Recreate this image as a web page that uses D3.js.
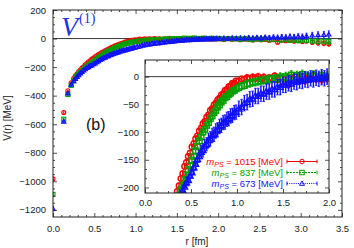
<!DOCTYPE html>
<html><head><meta charset="utf-8">
<script src="https://cdn.jsdelivr.net/npm/d3@7"></script>
<style>
body{margin:0;background:#fff}
svg{display:block}
text{font-family:"Liberation Sans",Arial,Helvetica,sans-serif}
</style>
</head><body>
<svg id="c" width="354" height="248"></svg>
<script>
// ---- data ----
const R = [0.00,0.13,0.18,0.22,0.25,0.27,0.29,0.31,0.33,0.35,0.37,0.39,0.41,0.43,0.45,0.47,0.49,0.51,0.53,0.55,0.57,0.59,0.61,0.63,0.65,0.67,0.69,0.71,0.73,0.75,0.77,0.79,0.81,0.83,0.85,0.87,0.89,0.91,0.93,0.95,0.97,0.99,1.02,1.05,1.08,1.11,1.14,1.17,1.20,1.23,1.26,1.29,1.32,1.35,1.38,1.41,1.44,1.47,1.50,1.53,1.56,1.59,1.62,1.65,1.68,1.71,1.74,1.77,1.80,1.83,1.86,1.89,1.92,1.95,1.98,2.02,2.07,2.12,2.17,2.22,2.27,2.32,2.37,2.42,2.47,2.52,2.57,2.62,2.67,2.72,2.77,2.82,2.87,2.92,2.97,3.02,3.07,3.14,3.21,3.28,3.34];
const vRed = [-983,-518,-366,-310,-281,-262,-249,-233,-221,-207,-197,-184,-175,-162,-155,-144,-138,-127,-121,-112,-107,-98,-93,-85,-81,-73,-69,-61,-58,-51,-48,-42,-39,-33,-31,-25,-23,-18,-17,-12,-12,-8,-8,-4,-5,-2,-4,-1,-3,0,-4,-1,-6,-2,-3,1,-5,-2,-9,-4,-14,-3,-6,0,-4,-1,-7,-2,-3,2,-4,-1,-5,0,-3,-2,-6,-1,-5,-3,-8,-4,-7,-10,-5,-9,-6,-12,-8,-26,-11,-15,-9,-18,-13,-21,-17,-26,-30,-33,-36];
const vGreen = [-1092,-565,-392,-328,-297,-278,-263,-248,-237,-225,-215,-204,-196,-186,-178,-168,-161,-151,-144,-134,-126,-116,-109,-100,-95,-88,-83,-76,-71,-65,-61,-55,-51,-46,-43,-38,-36,-32,-30,-26,-25,-22,-20,-17,-16,-13,-12,-10,-10,-8,-8,-6,-7,-4,-5,-3,-4,-1,-3,0,-2,3,-1,2,-2,4,0,1,-2,3,0,-1,2,-2,1,-1,-4,0,-3,-1,-6,-2,-4,-8,-3,-6,-2,-9,-5,-7,-11,-6,-13,-9,-15,-10,-12,-17,-20,-18,-21];
const vBlue = [-1192,-581,-383,-322,-298,-283,-268,-256,-243,-233,-222,-214,-205,-199,-191,-187,-179,-173,-164,-158,-149,-144,-136,-133,-125,-122,-115,-112,-106,-104,-98,-96,-90,-88,-83,-82,-77,-76,-71,-70,-65,-64,-58,-55,-48,-46,-41,-40,-35,-35,-31,-31,-27,-27,-23,-23,-19,-19,-15,-15,-12,-13,-9,-10,-7,-8,-5,-6,-3,-5,-2,-4,-1,-3,0,-1,2,0,3,1,4,2,5,3,6,4,8,5,9,7,11,8,13,10,15,12,17,22,25,26,29];
const eRed = [8,6,5,5,5,5,5,5,5,5, 5,5,5,5,5,5,5,5,5,5, 5,5,5,5,5,5,5,5,5,5, 5,5,5,5,5,5,5,5,5,5, 5,5,5,5,5,6,6,6,6,6, 6,6,6,6,6,6,6,7,7,7, 7,7,7,7,7,7,7,7,7,7, 7,7,7,7,7,7,7,7,7,8, 8,8,8,9,9,9,10,10,10,11, 11,12,12,13,13,14,14,15,16,17, 18];
const eGreen = [10,7,6,6,6,6,6,6,6,6, 6,6,6,6,6,6,6,6,6,6, 6,6,6,6,6,6,6,6,6,6, 6,6,6,6,6,6,6,6,6,6, 6,6,6,6,6,7,7,7,7,7, 7,7,7,7,7,7,7,8,8,8, 8,8,8,8,8,8,8,8,8,8, 8,8,8,8,8,8,8,8,8,9, 9,9,10,10,10,11,11,12,12,13, 13,14,14,15,15,16,17,18,19,20, 21];
const eBlue = [14,9,8,8,8,8,8,8,9,9, 9,9,9,9,10,10,10,10,11,11, 11,11,12,12,12,12,13,13,13,13, 13,13,13,13,13,13,13,13,13,13, 13,13,14,14,14,14,14,14,14,14, 14,14,14,14,14,14,14,14,14,14, 14,14,14,14,14,14,14,14,14,14, 14,14,14,14,14,13,13,13,13,13, 13,13,14,14,14,15,15,16,16,17, 17,18,18,19,19,20,21,22,23,24, 25];
const seriesNames = ["1015","837","673"];
const xTicksMain = [0,0.5,1,1.5,2,2.5,3,3.5];
const yTicksMain = [200,0,-200,-400,-600,-800,-1000,-1200];
const xTicksInset = [0,0.5,1,1.5,2];
const yTicksInset = [0,-50,-100,-150,-200];

const series = [
  {v:vRed, e:eRed, color:"#ff0000", shape:"circle", dash:null, name:seriesNames[0]},
  {v:vGreen, e:eGreen, color:"#00a000", shape:"square", dash:"2,1", name:seriesNames[1]},
  {v:vBlue, e:eBlue, color:"#1010ff", shape:"triangle", dash:"1,1.2", name:seriesNames[2]}
];

const svg = d3.select("#c");
const fmt1 = d3.format(".1f");

function marker(g, shape, cx, cy, s, color, sw){
  sw = sw || 1;
  if(shape==="circle"){
    g.append("circle").attr("cx",cx).attr("cy",cy).attr("r",s/2)
      .attr("fill","none").attr("stroke",color).attr("stroke-width",sw);
  } else if(shape==="square"){
    g.append("rect").attr("x",cx-s/2).attr("y",cy-s/2).attr("width",s).attr("height",s)
      .attr("fill","none").attr("stroke",color).attr("stroke-width",sw);
  } else {
    const h=s*0.9;
    g.append("path").attr("d",`M${cx},${cy-h*0.62}L${cx+s*0.55},${cy+h*0.45}L${cx-s*0.55},${cy+h*0.45}Z`)
      .attr("fill","none").attr("stroke",color).attr("stroke-width",sw);
  }
}

function drawData(g, x, y, s, cap, sw){
  series.forEach(sr=>{
    const gg = g.append("g");
    R.forEach((r,i)=>{
      const cx=x(r), v=sr.v[i], e=sr.e[i];
      gg.append("line").attr("x1",cx).attr("x2",cx).attr("y1",y(v-e)).attr("y2",y(v+e))
        .attr("stroke",sr.color).attr("stroke-width",sw);
      gg.append("line").attr("x1",cx-cap).attr("x2",cx+cap).attr("y1",y(v-e)).attr("y2",y(v-e))
        .attr("stroke",sr.color).attr("stroke-width",0.8);
      gg.append("line").attr("x1",cx-cap).attr("x2",cx+cap).attr("y1",y(v+e)).attr("y2",y(v+e))
        .attr("stroke",sr.color).attr("stroke-width",0.8);
      marker(gg, sr.shape, cx, y(v), s, sr.color, sw);
    });
  });
}

function minorVals(major, n){
  const out=[];
  for(let i=0;i<major.length-1;i++){
    const a=Math.min(major[i],major[i+1]), b=Math.max(major[i],major[i+1]);
    for(let k=1;k<n;k++) out.push(a+(b-a)*k/n);
  }
  return out;
}

function axes(g, x, y, xt, xn, yt, yn, xfmt, yfmt, xpad, ypad){
  const [x0,x1]=x.range(), [y0,y1]=y.range();
  const style = sel => { sel.select(".domain").remove();
    sel.selectAll("line").attr("stroke","#222").attr("stroke-width",0.8);
    sel.selectAll("text").attr("fill","#222").style("font-size","9.5px").style("font-family",'"Liberation Sans",Arial,sans-serif'); };
  const xm=minorVals(xt,xn), ym=minorVals(yt,yn);
  g.append("g").attr("transform",`translate(0,${y0})`).call(d3.axisBottom(x).tickValues(xt).tickSize(-4).tickPadding(xpad).tickFormat(xfmt)).call(style);
  g.append("g").attr("transform",`translate(0,${y0})`).call(d3.axisBottom(x).tickValues(xm).tickSize(-2).tickFormat("")).call(style);
  g.append("g").attr("transform",`translate(0,${y1})`).call(d3.axisTop(x).tickValues(xt).tickSize(-4).tickFormat("")).call(style);
  g.append("g").attr("transform",`translate(0,${y1})`).call(d3.axisTop(x).tickValues(xm).tickSize(-2).tickFormat("")).call(style);
  g.append("g").attr("transform",`translate(${x0},0)`).call(d3.axisLeft(y).tickValues(yt).tickSize(-4).tickPadding(ypad).tickFormat(yfmt)).call(style);
  g.append("g").attr("transform",`translate(${x0},0)`).call(d3.axisLeft(y).tickValues(ym).tickSize(-2).tickFormat("")).call(style);
  g.append("g").attr("transform",`translate(${x1},0)`).call(d3.axisRight(y).tickValues(yt).tickSize(-4).tickFormat("")).call(style);
  g.append("g").attr("transform",`translate(${x1},0)`).call(d3.axisRight(y).tickValues(ym).tickSize(-2).tickFormat("")).call(style);
  g.append("rect").attr("x",x0).attr("y",y1).attr("width",x1-x0).attr("height",y0-y1)
    .attr("fill","none").attr("stroke","#222").attr("stroke-width",1);
}

// ---- main plot ----
const x = d3.scaleLinear([0,3.5],[53,342]);
const y = d3.scaleLinear([-1250,200],[217,10]);
const defs = svg.append("defs");
defs.append("clipPath").attr("id","clipM").append("rect").attr("x",53).attr("y",10).attr("width",289).attr("height",207);
const main = svg.append("g");
main.append("line").attr("x1",53).attr("x2",342).attr("y1",y(0)).attr("y2",y(0)).attr("stroke","#222").attr("stroke-width",0.9);
drawData(main.append("g").attr("clip-path","url(#clipM)"), x, y, 4, 1, 1.1);
axes(main, x, y, xTicksMain, 5, yTicksMain, 4, fmt1, d3.format("d"), 8, 7);

// V^(1) label
const vl = svg.append("text").attr("x",61).attr("y",36).attr("fill","#2236e0")
  .style("font-family",'"Liberation Serif","Times New Roman",serif');
vl.append("tspan").text("V").style("font-style","italic").style("font-size","28px");
vl.append("tspan").text("(1)").attr("dx",1).attr("dy",-13).style("font-size","14px");

svg.append("text").attr("x",86).attr("y",130).text("(b)").style("font-size","16px").attr("fill","#111");

svg.append("text").attr("transform","translate(11,118) rotate(-90)").attr("text-anchor","middle")
  .text("V(r) [MeV]").style("font-size","10px").attr("fill","#222");
svg.append("text").attr("x",197).attr("y",245).attr("text-anchor","middle")
  .text("r [fm]").style("font-size","10px").attr("fill","#222");

// ---- inset ----
const xi = d3.scaleLinear([0,2],[145,329]);
const yi = d3.scaleLinear([-210,30],[193,60]);
defs.append("clipPath").attr("id","clipI").append("rect").attr("x",145).attr("y",60).attr("width",184).attr("height",133);
const ins = svg.append("g");
ins.append("rect").attr("x",145).attr("y",60).attr("width",184).attr("height",133).attr("fill","#fff");
ins.append("line").attr("x1",145).attr("x2",329).attr("y1",yi(0)).attr("y2",yi(0)).attr("stroke","#222").attr("stroke-width",0.9);
drawData(ins.append("g").attr("clip-path","url(#clipI)"), xi, yi, 5.5, 1.3, 1.4);
axes(ins, xi, yi, xTicksInset, 4, yTicksInset, 3, fmt1, d3.format("d"), 6.5, 6);

// legend
const legY = [165,176,187];
series.forEach((sr,i)=>{
  const t = svg.append("text").attr("x",283).attr("y",legY[i]).attr("text-anchor","end")
    .attr("fill",sr.color).style("font-size","9.5px");
  t.append("tspan").text("m").style("font-style","italic");
  t.append("tspan").text("PS").style("font-style","italic").style("font-size","7px").attr("dy",2);
  t.append("tspan").text(" = "+sr.name+" [MeV]").attr("dy",-2);
  const ly = legY[i]-3.5;
  const lg = svg.append("g");
  lg.append("line").attr("x1",287).attr("x2",317).attr("y1",ly).attr("y2",ly)
    .attr("stroke",sr.color).attr("stroke-width",1).attr("stroke-dasharray",sr.dash);
  [287,317].forEach(xx=>lg.append("line").attr("x1",xx).attr("x2",xx).attr("y1",ly-2).attr("y2",ly+2)
    .attr("stroke",sr.color).attr("stroke-width",1));
  marker(lg, sr.shape, 302, ly, 4.5, sr.color, 1);
});
</script>
</body></html>
